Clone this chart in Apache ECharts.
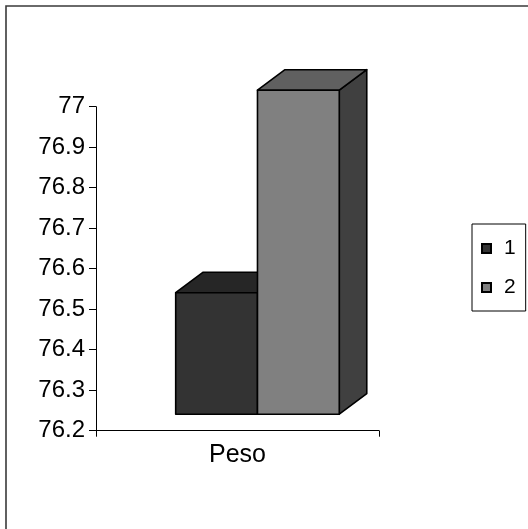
<!DOCTYPE html>
<html>
<head>
<meta charset="utf-8">
<script src="https://cdn.jsdelivr.net/npm/echarts@6/dist/echarts.min.js"></script>
<style>
  html, body { margin: 0; padding: 0; background: #ffffff; }
  #chart { width: 528px; height: 529px; }
</style>
</head>
<body>
<div id="chart"></div>
<script>
// Category and the two measured series
const categories = ['Peso'];
const seriesNames = ['1', '2'];
const series1 = [76.5];
const series2 = [77.0];

// Value axis range
const yMin = 76.2;
const yMax = 77;
const yStep = 0.1;

// Face colours per series: front, top, side
const faceColors = [
  { front: '#333333', top: '#262626', side: '#1c1c1c' },
  { front: '#808080', top: '#606060', side: '#404040' }
];

// 3D geometry (pixels / band fractions)
const LIFT = 16.5;          // front face raised above the floor edge
const DEPTH_X = 27.5;       // depth offset to the right
const DEPTH_Y = -20.5;      // depth offset upward
const BAR_START = 0.2816;   // first bar's left edge within the band
const BAR_W = 0.289;        // bar width as a fraction of the band

const FONT = 'Liberation Sans, Arial, sans-serif';

function makeRender(colors) {
  return function (params, api) {
    const idx = params.seriesIndex;
    const cat = api.value(0);
    const val = api.value(1);
    const base = api.coord([cat, yMin]);
    const topPt = api.coord([cat, val]);
    const band = api.size([1, 0])[0];
    const bandStart = base[0] - band / 2;
    const x0 = bandStart + band * (BAR_START + idx * BAR_W);
    const x1 = x0 + band * BAR_W;
    const yb = base[1] - LIFT;
    const yt = topPt[1] - LIFT;
    const stroke = { stroke: '#000000', lineWidth: 1.6, lineJoin: 'round' };
    return {
      type: 'group',
      children: [
        {
          type: 'polygon',
          shape: { points: [[x1, yt], [x1 + DEPTH_X, yt + DEPTH_Y], [x1 + DEPTH_X, yb + DEPTH_Y], [x1, yb]] },
          style: Object.assign({ fill: colors.side }, stroke)
        },
        {
          type: 'polygon',
          shape: { points: [[x0, yt], [x0 + DEPTH_X, yt + DEPTH_Y], [x1 + DEPTH_X, yt + DEPTH_Y], [x1, yt]] },
          style: Object.assign({ fill: colors.top }, stroke)
        },
        {
          type: 'rect',
          shape: { x: x0, y: yt, width: x1 - x0, height: yb - yt },
          style: Object.assign({ fill: colors.front }, stroke)
        }
      ]
    };
  };
}

const allSeries = [series1, series2].map(function (vals, i) {
  return {
    name: seriesNames[i],
    type: 'custom',
    clip: false,
    renderItem: makeRender(faceColors[i]),
    itemStyle: { color: faceColors[i].front, borderColor: '#000000', borderWidth: 1 },
    encode: { x: 0, y: 1 },
    data: vals.map(function (v, k) { return [k, v]; })
  };
});

const chart = echarts.init(document.getElementById('chart'), null, { renderer: 'canvas' });
chart.setOption({
  animation: false,
  backgroundColor: '#ffffff',
  textStyle: { fontFamily: FONT },
  graphic: [
    {
      // chart-area frame: left and top edges inside the page
      type: 'polyline',
      shape: { points: [[6, 560], [6, 6], [560, 6]] },
      style: { fill: null, stroke: '#3a3a3a', lineWidth: 1.6 },
      silent: true,
      z: 0
    }
  ],
  grid: { left: 96, top: 106.7, right: 149, bottom: 98.3, containLabel: false },
  legend: {
    orient: 'vertical',
    left: 472,
    top: 224,
    padding: [14, 10, 13, 9],
    itemGap: 18,
    itemWidth: 9,
    itemHeight: 9,
    icon: 'rect',
    backgroundColor: '#ffffff',
    borderColor: '#000000',
    borderWidth: 1,
    formatter: '{t|{name}}',
    textStyle: {
      color: '#000000',
      fontFamily: FONT,
      rich: { t: { fontSize: 21, lineHeight: 23, padding: [0, 0, 0, 8], fontFamily: FONT, color: '#000000' } }
    },
    data: seriesNames
  },
  xAxis: {
    type: 'category',
    data: categories,
    boundaryGap: true,
    axisLine: { lineStyle: { color: '#000000', width: 1 } },
    axisTick: { show: true, length: 6, lineStyle: { color: '#000000' } },
    axisLabel: { fontSize: 25, color: '#000000', margin: 12, fontFamily: FONT },
    splitLine: { show: false }
  },
  yAxis: {
    type: 'value',
    min: yMin,
    max: yMax,
    interval: yStep,
    axisLine: { show: true, lineStyle: { color: '#000000', width: 1 } },
    axisTick: { show: true, length: 7, lineStyle: { color: '#000000' } },
    axisLabel: {
      fontSize: 24,
      color: '#000000',
      margin: 11,
      fontFamily: FONT,
      formatter: function (v) { return String(Math.round(v * 10) / 10); }
    },
    splitLine: { show: false }
  },
  series: allSeries
});
</script>
</body>
</html>
